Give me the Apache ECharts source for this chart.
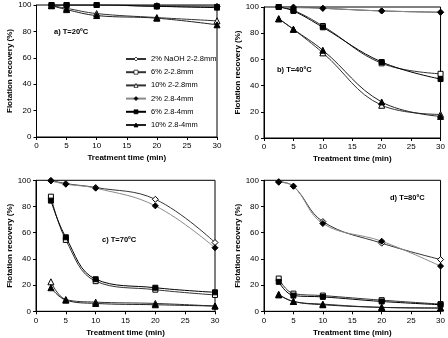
<!DOCTYPE html>
<html><head><meta charset="utf-8">
<script src="https://cdn.jsdelivr.net/npm/echarts@6/dist/echarts.min.js"></script>
<style>html,body{margin:0;padding:0;background:#fff}#c{width:448px;height:338px}</style>
</head><body><div id="c"></div>
<script>
const times = [2.5, 5, 10, 20, 30];
const seriesNames = ['2% NaOH 2-2.8mm', '6% 2-2.8mm', '10% 2-2.8mm', '2% 2.8-4mm', '6% 2.8-4mm', '10% 2.8-4mm'];
const panelTitles = ['a) T=20ºC', 'b) T=40ºC', 'c) T=70ºC', 'd) T=80ºC'];
const xTicks = [0, 5, 10, 15, 20, 25, 30];
const yTicks = [0, 20, 40, 60, 80, 100];

// values per panel, order follows seriesNames
const t20 = [
  [100, 100, 100, 99.5, 99],
  [100, 100, 100, 99, 98.5],
  [99.5, 97.5, 93.5, 90.5, 88],
  [100, 100, 100, 99, 98.5],
  [100, 100, 100, 99, 98],
  [99.5, 96.5, 92, 90, 85]
];
const t40 = [
  [100, 100, 99, 97, 96],
  [100, 97.5, 85.5, 57, 49],
  [91, 83, 65, 25, 18],
  [100, 99.5, 99, 97, 96],
  [100, 97, 84.5, 58, 45],
  [91, 83, 67, 27.5, 16.5]
];
const t70 = [
  [100, 97.5, 94.5, 85.5, 52.5],
  [87.5, 54.5, 23, 16.5, 12.5],
  [22.5, 9, 7, 6, 4],
  [99.5, 97, 94, 80.5, 48.5],
  [84.5, 56.5, 24.5, 18, 14.5],
  [18, 8.5, 6, 5, 4]
];
const t80 = [
  [99, 95.5, 68.5, 52, 39.5],
  [25, 13.5, 12, 8.5, 5.5],
  [13, 7.5, 5.5, 3, 2.5],
  [98.5, 95.5, 67, 53.5, 34.5],
  [22.5, 12, 11, 7.5, 5],
  [12.5, 7.5, 5, 3, 2.5]
];
const panels = [t20, t40, t70, t80];

const styles = [
  {symbol: 'diamond', size: 6, fill: '#fff', line: '#333'},
  {symbol: 'rect', size: 5, fill: '#fff', line: '#333'},
  {symbol: 'triangle', size: 6, fill: '#fff', line: '#333'},
  {symbol: 'diamond', size: 6, fill: '#000', line: '#8a8a8a'},
  {symbol: 'rect', size: 5, fill: '#000', line: '#000'},
  {symbol: 'triangle', size: 6, fill: '#000', line: '#222'}
];

const grids = [
  {left: 36.5, top: 5, width: 180.5, height: 132},
  {left: 264, top: 7, width: 178.5, height: 131},
  {left: 36, top: 180.3, width: 179, height: 131},
  {left: 264, top: 180.3, width: 177.5, height: 131}
];
const font = 'Liberation Sans, Arial, sans-serif';
const xAxis = [], yAxis = [], series = [], graphic = [];
const titlePos = [[54, 28], [277, 66], [102, 236], [390, 194]];

grids.forEach((g, i) => {
  g.show = true; g.borderColor = '#000'; g.borderWidth = 1; g.backgroundColor = '#fff';
  xAxis.push({
    type: 'value', gridIndex: i, min: 0, max: 30, interval: 5,
    name: 'Treatment time (min)', nameLocation: 'middle', nameGap: 17,
    nameTextStyle: {fontFamily: font, fontSize: 8, fontWeight: 'bold', color: '#000'},
    axisLine: {onZero: false, lineStyle: {color: '#000'}},
    axisTick: {show: true, length: 3, lineStyle: {color: '#000'}},
    axisLabel: {fontFamily: font, fontSize: 8, color: '#000', margin: 5,
      formatter: v => xTicks.includes(v) ? String(v) : ''},
    splitLine: {show: false}
  });
  yAxis.push({
    type: 'value', gridIndex: i, min: 0, max: 100, interval: 20,
    name: 'Flotation recovery (%)', nameLocation: 'middle', nameGap: 22,
    nameTextStyle: {fontFamily: font, fontSize: 8, fontWeight: 'bold', color: '#000'},
    axisLine: {show: true, lineStyle: {color: '#000'}},
    axisTick: {show: true, length: 3, lineStyle: {color: '#000'}},
    axisLabel: {fontFamily: font, fontSize: 8, color: '#000', margin: 5,
      formatter: v => yTicks.includes(v) ? String(v) : ''},
    splitLine: {show: false}
  });
  panels[i].forEach((vals, k) => {
    const s = styles[k];
    series.push({
      type: 'line', name: seriesNames[k], xAxisIndex: i, yAxisIndex: i,
      data: times.map((t, j) => [t, vals[j]]),
      smooth: 0.4, symbol: s.symbol, symbolSize: s.size,
      lineStyle: {color: s.line, width: 1},
      itemStyle: {color: s.fill, borderColor: '#000', borderWidth: 1},
      z: 3 + k, animation: false
    });
  });
  graphic.push({type: 'text', left: titlePos[i][0], top: titlePos[i][1],
    style: {text: panelTitles[i], font: 'bold 7.5px ' + font, fill: '#000'}, z: 100});
});

const chart = echarts.init(document.getElementById('c'));
chart.setOption({
  animation: false,
  grid: grids, xAxis, yAxis, series, graphic,
  legend: {
    data: seriesNames.map(n => ({name: n, itemStyle: {borderWidth: 0.7}})),
    orient: 'vertical', left: 120, top: 50,
    itemWidth: 20, itemHeight: 5, itemGap: 5.2,
    textStyle: {fontFamily: font, fontSize: 7.5, color: '#000'},
    selectedMode: false
  }
});
</script>
</body></html>
